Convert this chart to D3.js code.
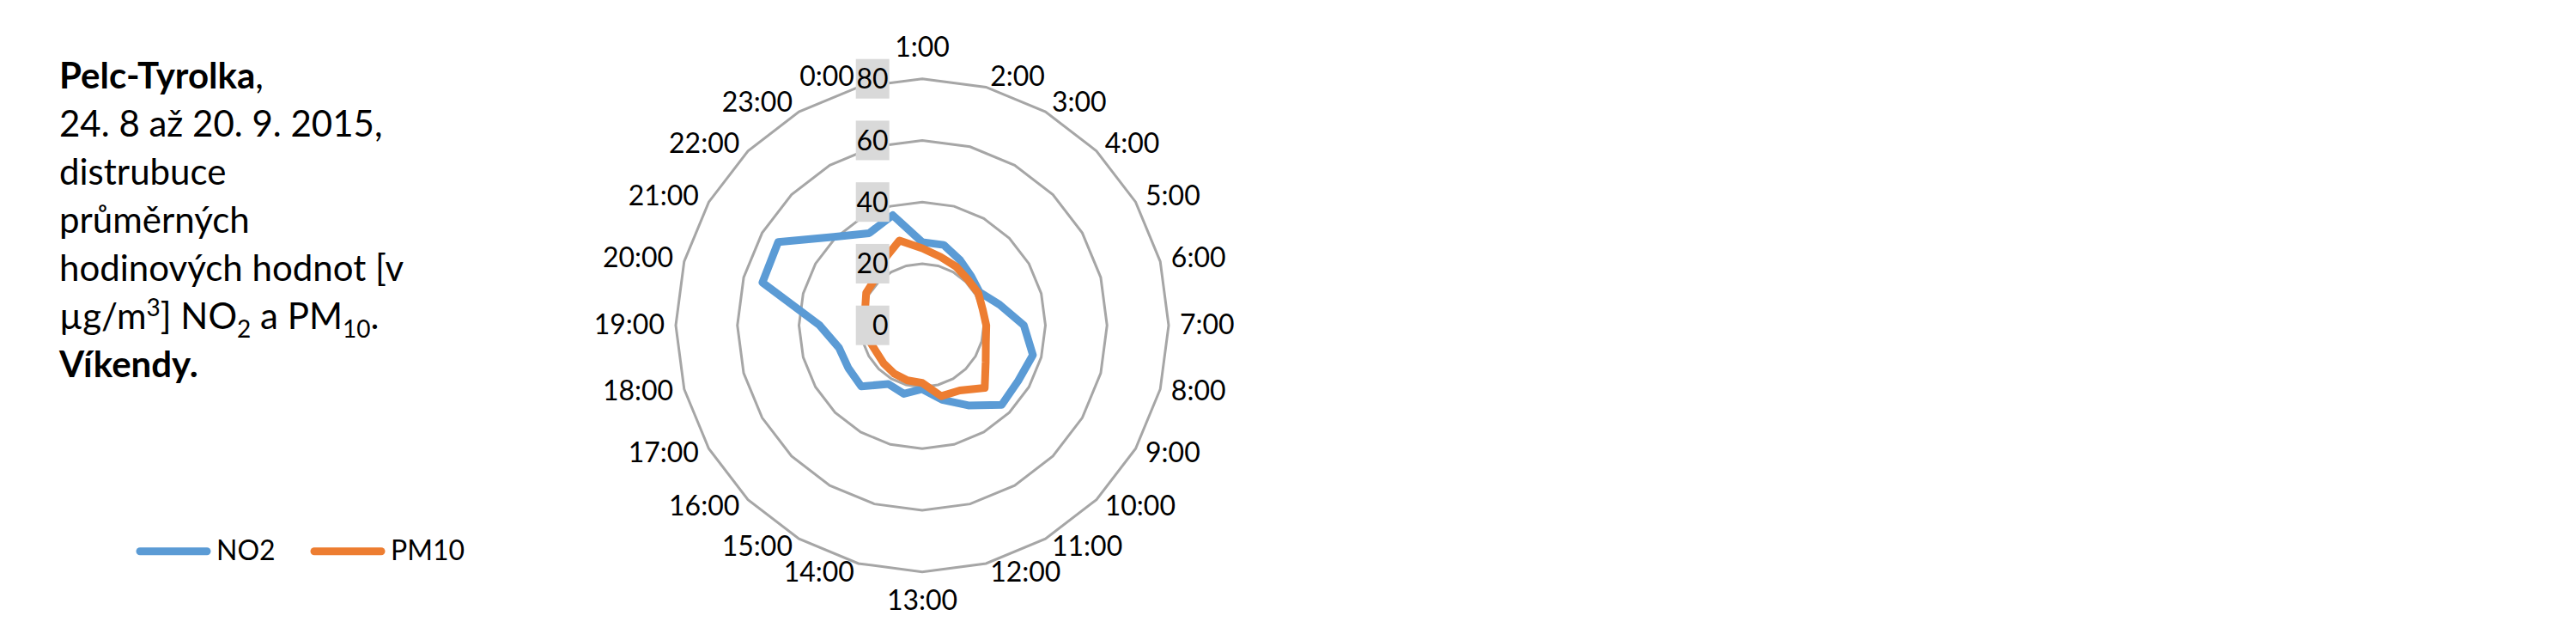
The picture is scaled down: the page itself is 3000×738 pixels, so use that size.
<!DOCTYPE html>
<html>
<head>
<meta charset="utf-8">
<script src="https://cdn.jsdelivr.net/npm/d3@7/dist/d3.min.js"></script>
<style>
  html, body { margin: 0; padding: 0; background: #ffffff; }
  svg { display: block; }
  text { font-family: Lato, "Open Sans", "Noto Sans", sans-serif; fill: #000; }
</style>
</head>
<body>
<script>
// ---------- data ----------
const hours = ["1:00","2:00","3:00","4:00","5:00","6:00","7:00","8:00","9:00","10:00","11:00","12:00",
               "13:00","14:00","15:00","16:00","17:00","18:00","19:00","20:00","21:00","22:00","23:00","0:00"];
const no2  = [27, 27, 24.5, 22.5, 21.5, 26, 33, 37.2, 36, 36.5, 30, 25,
              20.7, 23, 22, 28, 27.7, 28, 33.3, 53.7, 54, 40.6, 34.5, 37];
const pm10 = [25, 23, 22, 21, 21, 20.3, 20.8, 21.4, 23.8, 28.7, 24.4, 23.8,
              18.7, 18.5, 18.1, 17.6, 17.2, 18, 19.6, 19.2, 21, 21.5, 24.7, 28.5];
const seriesNames = ["NO2", "PM10"];
const seriesColors = ["#5B9BD5", "#ED7D31"];
const axisTicks = [0, 20, 40, 60, 80];
const gridTicks = [20, 40, 60, 80];

// ---------- layout ----------
const W = 3000, H = 738;
const cx = 1074, cy = 378.7;
const r = d3.scaleLinear().domain([0, 80]).range([0, 287]);
const angle = d3.scaleLinear().domain([0, hours.length]).range([0, 2 * Math.PI]);

const svg = d3.select("body").append("svg").attr("width", W).attr("height", H);
svg.append("rect").attr("width", W).attr("height", H).attr("fill", "#fff");

const g = svg.append("g").attr("transform", `translate(${cx},${cy})`);

// gridlines (polygons)
const gridLine = d3.lineRadial()
  .angle((d, i) => angle(i))
  .radius(d => r(d))
  .curve(d3.curveLinearClosed);

g.selectAll(".grid").data(gridTicks).enter().append("path")
  .attr("d", t => gridLine(hours.map(() => t)))
  .attr("fill", "none").attr("stroke", "#a6a6a6").attr("stroke-width", 3);

// series
const seriesLine = d3.lineRadial()
  .angle((d, i) => angle(i))
  .radius(d => r(d))
  .curve(d3.curveLinearClosed);

[no2, pm10].forEach((vals, k) => {
  g.append("path").attr("d", seriesLine(vals))
    .attr("fill", "none").attr("stroke", seriesColors[k])
    .attr("stroke-width", 9).attr("stroke-linejoin", "round");
});

// radial axis labels with grey boxes
const ax = g.append("g");
axisTicks.forEach(t => {
  ax.append("rect").attr("x", -77.3).attr("width", 39)
    .attr("y", -r(t) - 23).attr("height", 46).attr("fill", "#d9d9d9");
  ax.append("text").attr("x", -39.5).attr("y", -r(t) + 11.5)
    .attr("text-anchor", "end").attr("font-size", 32).text(t);
});

// category labels
const R = r(80);
hours.forEach((h, i) => {
  const a = angle(i);
  const s = Math.sin(a), c = Math.cos(a);
  const px = R * s, py = -R * c;
  let x, y, anchor;
  if (Math.abs(s) < 0.01) {
    anchor = "middle"; x = px;
    y = c > 0 ? py - 26 : py + 44;
  } else {
    anchor = s > 0 ? "start" : "end";
    x = px + Math.sign(s) * (2 + 11 * Math.abs(s));
    y = py - 11.5 * c - 1.5 + 11.5;
  }
  g.append("text").attr("x", x).attr("y", y).attr("text-anchor", anchor)
    .attr("font-size", 32).text(h);
});

// ---------- title text ----------
const tx = 69, fs = 42, lh = 56, y0 = 103;
const title = svg.append("text").attr("font-size", fs);
const line = (k) => title.append("tspan").attr("x", tx).attr("y", y0 + k * lh);
line(0).attr("font-weight", "bold").text("Pelc-Tyrolka");
title.append("tspan").text(",");
line(1).text("24. 8 až 20. 9. 2015,");
line(2).text("distrubuce");
line(3).text("průměrných");
line(4).text("hodinových hodnot [v");
line(5).text("µg/m");
title.append("tspan").attr("font-size", 28).attr("dy", -15).text("3");
title.append("tspan").attr("dy", 15).text("] NO");
title.append("tspan").attr("font-size", 28).attr("dy", 10).text("2");
title.append("tspan").attr("dy", -10).text(" a PM");
title.append("tspan").attr("font-size", 28).attr("dy", 10).text("10");
title.append("tspan").attr("dy", -10).text(".");
line(6).attr("font-weight", "bold").text("Víkendy.");

// ---------- legend ----------
const legendX = [163, 366];
const legY = 641.7;
seriesNames.forEach((n, k) => {
  svg.append("line").attr("x1", legendX[k]).attr("x2", legendX[k] + 78)
    .attr("y1", legY).attr("y2", legY)
    .attr("stroke", seriesColors[k]).attr("stroke-width", 9).attr("stroke-linecap", "round");
  svg.append("text").attr("x", legendX[k] + 89).attr("y", legY + 10)
    .attr("font-size", 32).text(n);
});
</script>
</body>
</html>
